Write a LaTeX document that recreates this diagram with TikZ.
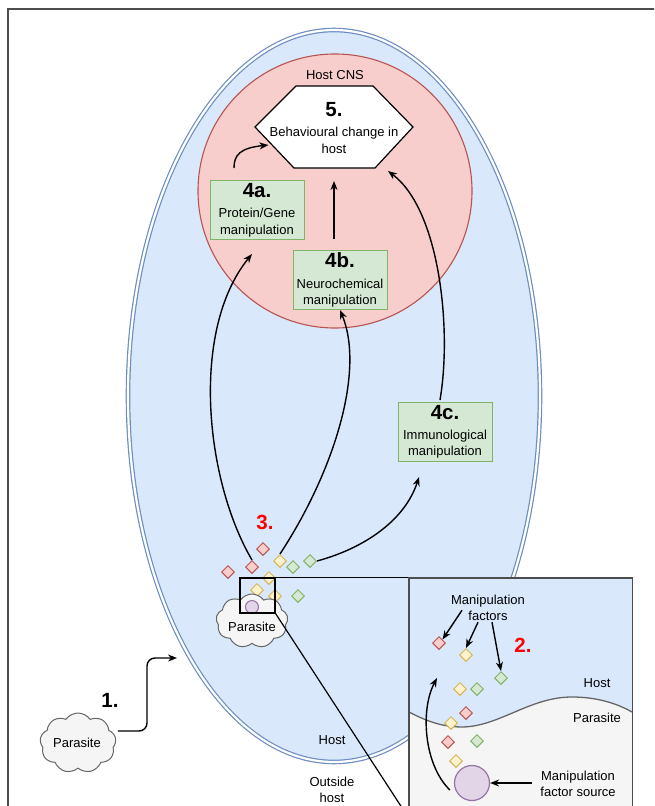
\documentclass[tikz,border=0pt]{standalone}
\usepackage{fontspec}
\setmainfont{Liberation Sans}
\usetikzlibrary{arrows.meta,shapes.geometric,shapes.symbols}
\definecolor{hostfill}{HTML}{DAE8FC}
\definecolor{hostline}{HTML}{6C8EBF}
\definecolor{cnsfill}{HTML}{F8CECC}
\definecolor{cnsline}{HTML}{B85450}
\definecolor{grfill}{HTML}{D5E8D4}
\definecolor{grline}{HTML}{82B366}
\definecolor{yefill}{HTML}{FFF2CC}
\definecolor{yeline}{HTML}{D6B656}
\definecolor{pufill}{HTML}{E1D5E7}
\definecolor{puline}{HTML}{9673A6}
\definecolor{clfill}{HTML}{F5F5F5}
\definecolor{clline}{HTML}{666666}
\definecolor{framec}{HTML}{4D4D4D}
\definecolor{numred}{HTML}{FF0000}
\newcommand{\txtfont}{\fontsize{13}{16.5}\selectfont}
\newcommand{\bigfont}{\fontsize{20.5}{22}\selectfont\bfseries}
\tikzset{
  lbl/.style={font=\txtfont, align=center, inner sep=0pt},
  greenbox/.style={draw=grline, fill=grfill, line width=1pt, minimum width=94pt, minimum height=59pt, inner sep=0pt, align=center, font=\txtfont},
  conn/.style={line width=1.4pt, -{Stealth[length=9pt,width=7pt]}},
  plainline/.style={line width=1.2pt},
  dred/.style={diamond, draw=cnsline, fill=cnsfill, line width=1pt, minimum width=13pt, minimum height=13pt, inner sep=0pt},
  dyel/.style={diamond, draw=yeline, fill=yefill, line width=1pt, minimum width=13pt, minimum height=13pt, inner sep=0pt},
  dgrn/.style={diamond, draw=grline, fill=grfill, line width=1pt, minimum width=13pt, minimum height=13pt, inner sep=0pt},
  parcloud/.style={cloud, cloud puffs=9, cloud puff arc=110, draw=clline, fill=clfill, line width=1pt, inner sep=0pt, font=\txtfont},
  numlbl/.style={font=\bigfont, inner sep=0pt},
}
\begin{document}
\begin{tikzpicture}[x=1pt,y=-1pt]
\useasboundingbox (0,0) rectangle (654,806);
\clip (0,0) rectangle (654,806);
% frame
\draw[framec, line width=1.5pt] (8,9) rectangle (680,840);
% host ellipse
\draw[hostline, fill=hostfill, line width=1.2pt, double=white, double distance=2.2pt] (334,396) ellipse [x radius=206pt, y radius=366pt];
% CNS circle
\draw[cnsline, fill=cnsfill, line width=1.1pt] (335,191) circle [radius=137pt];
\node[lbl] (cns) at (335,75) {Host CNS};
% hexagon
\draw[black, fill=white, line width=1.2pt] (255,127) -- (296,86) -- (373,86) -- (413,127) -- (375,168) -- (294,168) -- cycle;
\node[lbl] (h5) at (334,128) {{\bigfont 5.}\\[4pt]Behavioural change in\\host};
% boxes
\node[greenbox] (b4a) at (257,210) {{\bigfont 4a.}\\[4pt]Protein/Gene\\manipulation};
\node[greenbox] (b4b) at (340,280) {{\bigfont 4b.}\\[4pt]Neurochemical\\manipulation};
\node[greenbox] (b4c) at (445,432) {{\bigfont 4c.}\\[3pt]Immunological\\manipulation};
% diamonds (host)
\node[dred] (r1) at (263,549) {};
\node[dred] (r2) at (252,567) {};
\node[dred] (r3) at (228,572) {};
\node[dyel] (y1) at (280,561) {};
\node[dgrn] (g1) at (293,567) {};
\node[dgrn] (g2) at (310,561) {};
\node[dyel] (y2) at (269,578) {};
\node[dyel] (y3) at (257,590) {};
\node[dyel] (y4) at (275,596) {};
\node[dgrn] (g3) at (298,596) {};
% arrows within CNS
\draw[conn] ([yshift=12pt]b4a.north -| 234,0) .. controls (234,155) and (240,148) .. ([xshift=-1pt]h5.west |- 0,145);
\draw[conn] ([yshift=11pt]b4b.north -| 334,0) -- (334,181);
% arrows from factors
\draw[conn] (r2.north) .. controls (205,480) and (190,330) .. ([yshift=-14pt]b4a.south -| 252,0);
\draw[conn] (y1.north) .. controls (335,470) and (365,370) .. (b4b.south -| 340,0);
\draw[conn] (g2.east) .. controls (365,548) and (405,520) .. ([yshift=-15pt]b4c.south west -| 419,0);
\draw[conn] ([xshift=-5pt,yshift=2pt]b4c.north) .. controls (452,330) and (440,210) .. (388,171);
\node[numlbl, text=numred] (n3) at (265,522) {3.};
% parasite in host
\node[parcloud, minimum width=72pt, minimum height=54pt] (pc) at (252,621) {};
\node[font=\txtfont, inner sep=0pt] (pct) at (252,627) {Parasite};
\draw[puline, fill=pufill, line width=1pt] (252,607) circle [radius=6.5pt];
\node[draw=black, line width=1.3pt, minimum width=35pt, minimum height=35pt, inner sep=0pt] (zr) at (257.5,595.5) {};
% inset
\node[minimum width=223pt, minimum height=240pt, inner sep=0pt] (ins) at (520.5,698) {};
\draw[plainline] (zr.north east) -- (ins.north west |- zr.north east);
\draw[plainline] (zr.south east) -- (ins.south west);
\fill[hostfill] (ins.north west) rectangle (ins.south east);
\fill[clfill] (409,712) .. controls (430,723) and (445,727) .. (463,727) .. controls (500,726) and (530,697) .. (572,697) .. controls (598,697) and (618,704) .. (632,712) -- (632,820) -- (409,820) -- cycle;
\draw[clline, line width=1.3pt] (409,712) .. controls (430,723) and (445,727) .. (463,727) .. controls (500,726) and (530,697) .. (572,697) .. controls (598,697) and (618,704) .. (632,712);
\node[lbl] (mf) at (488,608) {Manipulation\\factors};
\node[numlbl, text=numred] (n2) at (523,645) {2.};
\node[lbl] (ihost) at (597,683) {Host};
\node[lbl] (ipar) at (597,718) {Parasite};
\node[lbl] (msrc) at (578,784) {Manipulation\\factor source};
\node[dred] (ir1) at (439,643) {};
\node[dyel] (iy1) at (466,655) {};
\node[dgrn] (ig1) at (501,678) {};
\node[dyel] (iy2) at (460,689) {};
\node[dgrn] (ig2) at (477,689) {};
\node[dred] (ir2) at (466,713) {};
\node[dyel] (iy3) at (451,723) {};
\node[dred] (ir3) at (448,742) {};
\node[dgrn] (ig3) at (477,741) {};
\node[dyel] (iy4) at (456,761) {};
\node[circle, draw=puline, fill=pufill, line width=1.2pt, minimum size=35pt, inner sep=0pt] (src) at (472,783) {};
\draw[conn] ([xshift=-26pt,yshift=11pt]mf.south) -- (ir1.north east);
\draw[conn] ([xshift=-10pt,yshift=-1pt]mf.south) -- (iy1.north);
\draw[conn] ([xshift=4pt,yshift=-1pt]mf.south) -- (ig1.north);
\draw[conn] ([xshift=-4pt,yshift=-7pt]src.west) .. controls (424,765) and (420,710) .. (437,678);
\draw[conn] ([xshift=-8pt]msrc.west |- src.east) -- (src.east);
\draw[framec, line width=1.4pt] (ins.north west) rectangle (ins.south east);
% outside labels
\node[lbl] (lhost) at (332,740) {Host};
\node[lbl] (lout) at (332,790) {Outside\\host};
% outside parasite
\node[parcloud, minimum width=76pt, minimum height=60pt] (pout) at (78,743) {};
\node[font=\txtfont, inner sep=0pt] (poutt) at (77,743) {Parasite};
\coordinate (entry) at (177,658);
\draw[conn, rounded corners=8pt] ([xshift=2pt,yshift=12pt]pout.east) -- (147,731) -- (147,658) -- (entry);
\node[numlbl] (n1) at (110,700) {1.};
\end{tikzpicture}
\end{document}
